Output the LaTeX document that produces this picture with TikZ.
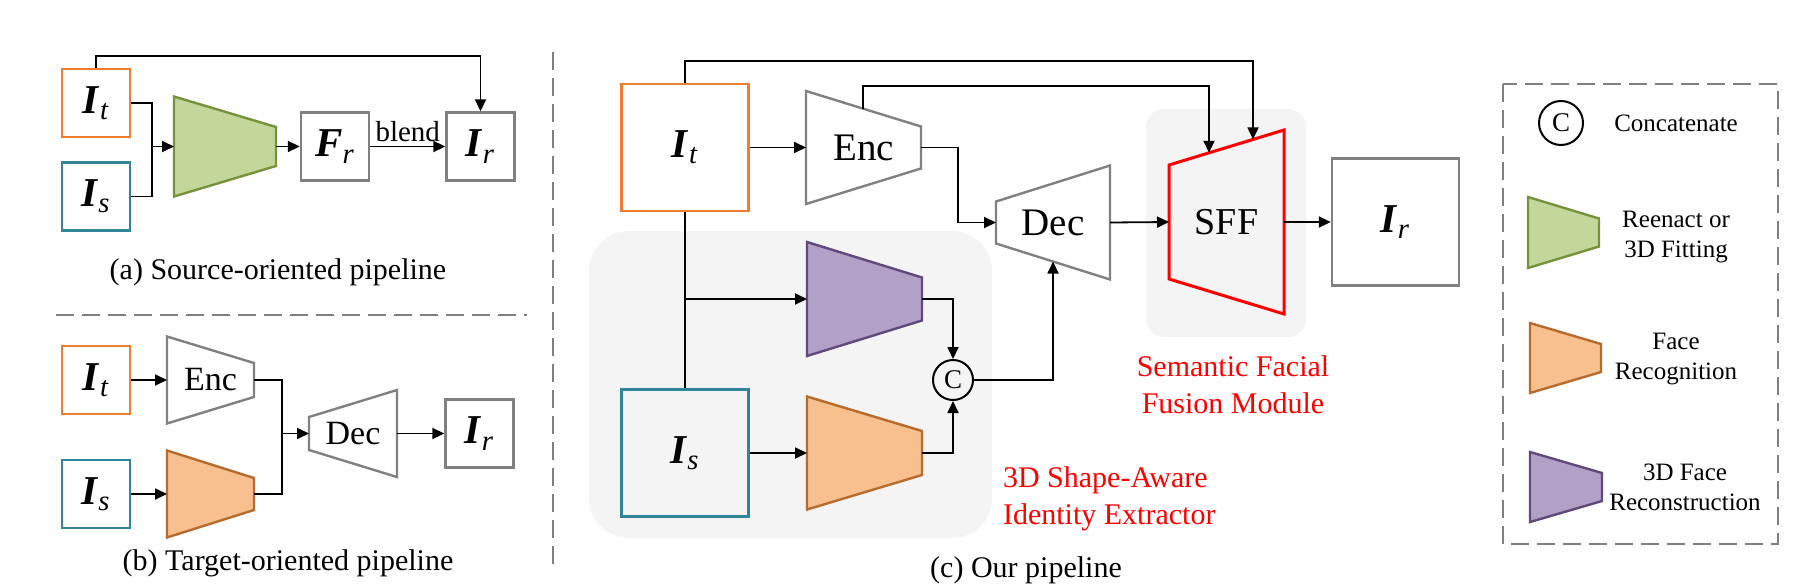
\documentclass[tikz,border=0pt]{standalone}
\usepackage{amsmath}
\usepackage{fontspec}
\setmainfont{Liberation Serif}
\usetikzlibrary{arrows.meta}

\definecolor{myorange}{RGB}{237,125,49}
\definecolor{myblue}{RGB}{49,133,155}
\definecolor{greenfill}{RGB}{196,215,155}
\definecolor{greenline}{RGB}{118,146,60}
\definecolor{orangefill}{RGB}{248,192,143}
\definecolor{orangeline}{RGB}{182,108,46}
\definecolor{purplefill}{RGB}{178,161,199}
\definecolor{purpleline}{RGB}{96,74,123}
\definecolor{boxgray}{RGB}{128,128,128}
\definecolor{bggray}{RGB}{244,244,244}

\newcommand{\imgI}[1]{\textbf{\textit{I}}$_{\textit{#1}}$}

% name, style, left x, right x, centre y, left half height, right half height
\newcommand{\trap}[7]{%
  \draw[#2] ({#3},{#5-#6}) -- ({#4},{#5-#7}) -- ({#4},{#5+#7}) -- ({#3},{#5+#6}) -- cycle;
  \coordinate (#1-w) at ({#3},{#5});
  \coordinate (#1-e) at ({#4},{#5});
  \coordinate (#1) at ({(#3+#4)/2},{#5});
}

\tikzset{
  arr/.style={-{Triangle[length=6pt,width=5.5pt]}, line width=0.9pt},
  line/.style={line width=0.9pt},
  imgbox/.style={draw=#1, line width=1.2pt, minimum size=34pt, inner sep=0pt,
    font=\fontsize{20.5}{24}\selectfont},
  bigbox/.style={imgbox=#1, minimum size=63.5pt},
  trapgray/.style={draw=boxgray, fill=white, line width=1.2pt},
  trapgreen/.style={draw=greenline, fill=greenfill, line width=1.2pt},
  traporange/.style={draw=orangeline, fill=orangefill, line width=1.2pt},
  trappurple/.style={draw=purpleline, fill=purplefill, line width=1.2pt},
  trapsff/.style={draw=red, fill=bggray, line width=1.5pt},
  sepline/.style={draw=boxgray, line width=1.3pt, dash pattern=on 9pt off 4pt},
  caption/.style={font=\fontsize{15}{18}\selectfont},
  redtext/.style={text=red, font=\fontsize{15}{18.5}\selectfont},
  legtext/.style={font=\fontsize{12.5}{15}\selectfont, align=center},
  catnode/.style={circle, draw, line width=1pt, minimum size=20pt, inner sep=0pt,
    font=\fontsize{13.5}{16}\selectfont},
}

\begin{document}
\begin{tikzpicture}[x=0.5pt,y=-0.5pt]
  \useasboundingbox (0,0) rectangle (1797,583);
  % grey module regions
  \fill[bggray, rounded corners=20pt] (589,231) rectangle (992,538);
  \fill[bggray, rounded corners=9pt] (1146,109) rectangle (1306,337);

  % (a) source-oriented
  \node[imgbox=myorange] (ita) at (96,103) {\imgI{t}};
  \node[imgbox=myblue] (isa) at (96,196.5) {\imgI{s}};
  \trap{fita}{trapgreen}{174}{276}{146.5}{50}{19.5}
  \node[imgbox=boxgray] (fra) at (335,146.5) {\textbf{\textit{F}}$_{\textit{r}}$};
  \node[imgbox=boxgray] (ira) at (480.5,146.5) {\imgI{r}};
  \coordinate (ja) at (152,146.5);
  \draw[line] (ita.east) -| (ja);
  \draw[line] (isa.east) -| (ja);
  \draw[arr] (ja) -- (fita-w);
  \draw[arr] (fita-e) -- (fra.west);
  \draw[arr] (fra.east) -- node[above, inner sep=2pt, font=\fontsize{14.5}{17}\selectfont] (blend) {blend} (ira.west);
  \draw[arr] (ita.north) -- ++(0,-12) -| (ira.north);
  \node[caption] (capa) at (278,272) {(a) Source-oriented pipeline};

  \draw[sepline] (56,315) -- (527,315);

  % (b) target-oriented
  \node[imgbox=myorange] (itb) at (96,380) {\imgI{t}};
  \node[imgbox=myblue] (isb) at (96,494) {\imgI{s}};
  \trap{encb}{trapgray}{167}{254}{380}{43.5}{17}
  \node[font=\fontsize{17}{20}\selectfont] (encbtxt) at (encb) {Enc};
  \trap{recb}{traporange}{167}{254}{494}{43.5}{16}
  \trap{decb}{trapgray}{309}{397}{433.5}{16.5}{43.5}
  \node[font=\fontsize{17}{20}\selectfont] (decbtxt) at (decb) {Dec};
  \node[imgbox=boxgray] (irb) at (479.5,433.5) {\imgI{r}};
  \coordinate (jb) at (282,433.5);
  \draw[arr] (itb.east) -- (encb-w);
  \draw[arr] (isb.east) -- (recb-w);
  \draw[line] (encb-e) -| (jb);
  \draw[line] (recb-e) -| (jb);
  \draw[arr] (jb) -- (decb-w);
  \draw[arr] (decb-e) -- (irb.west);
  \node[caption] (capb) at (288,563) {(b) Target-oriented pipeline};

  \draw[sepline] (553,52) -- (553,570);

  % (c) our pipeline
  \node[bigbox=myorange] (itc) at (685,147.5) {\imgI{t}};
  \node[bigbox=myblue] (isc) at (685,453) {\imgI{s}};
  \trap{encc}{trapgray}{806}{921}{147.5}{56.5}{21}
  \node[font=\fontsize{19.5}{23}\selectfont] (encctxt) at (encc) {Enc};
  \trap{decc}{trapgray}{996}{1110}{222.5}{21}{57}
  \node[font=\fontsize{19.5}{23}\selectfont] (decctxt) at (decc) {Dec};
  \trap{sffc}{trapsff}{1169}{1284}{222}{57}{92}
  \node[font=\fontsize{19}{23}\selectfont] (sffctxt) at (sffc) {SFF};
  \trap{purc}{trappurple}{807}{922}{299}{57}{21.5}
  \trap{recc}{traporange}{807}{922}{453}{56.5}{22}
  \node[catnode] (cat) at (953,380) {C};
  \node[bigbox=boxgray] (irc) at (1395.5,222) {\imgI{r}};
  \coordinate (encc-t) at (863,108.6);
  \coordinate (decc-b) at (1053,261.5);
  \coordinate (sffc-t1) at (1209,152.8);
  \coordinate (sffc-t2) at (1253,139.4);

  \draw[arr] (itc.north) -- ++(0,-22) -| (sffc-t2);
  \draw[arr] (encc-t) -- ++(0,-22.6) -| (sffc-t1);
  \draw[arr] (itc.east) -- (encc-w);
  \draw[arr] (encc-e) -- ++(37,0) |- (decc-w);
  \draw[arr] (decc-e) -- (sffc-w);
  \draw[arr] (sffc-e) -- (irc.west);
  \draw[line] (itc.south) -- (isc.north);
  \draw[arr] (itc.south |- purc-w) -- (purc-w);
  \draw[arr] (isc.east) -- (recc-w);
  \draw[arr] (purc-e) -| (cat.north);
  \draw[arr] (recc-e) -| (cat.south);
  \draw[arr] (cat.east) -| (decc-b);

  \node[redtext, anchor=west, align=left] (idtxt) at (996,498.5) {3D Shape-Aware\\Identity Extractor};
  \node[redtext, align=center] (sfftxt) at (1233,385) {Semantic Facial\\Fusion Module};
  \node[caption] (capc) at (1026,570) {(c) Our pipeline};

  % legend
  \draw[sepline] (1503,84) rectangle (1778,544);
  \node[catnode, minimum size=22pt] (catleg) at (1561,123) {C};
  \node[legtext] (catlegtxt) at (1676,123) {Concatenate};
  \trap{fitleg}{trapgreen}{1528}{1599}{232.5}{35.5}{14}
  \node[legtext] (fitlegtxt) at (1676,237) {Reenact or\\3D Fitting};
  \trap{recleg}{traporange}{1530}{1601}{358}{35}{14}
  \node[legtext] (reclegtxt) at (1676,359) {Face\\Recognition};
  \trap{purleg}{trappurple}{1530}{1602}{487}{35}{14}
  \node[legtext] (purlegtxt) at (1685,487) {3D Face\\Reconstruction};
\end{tikzpicture}
\end{document}
